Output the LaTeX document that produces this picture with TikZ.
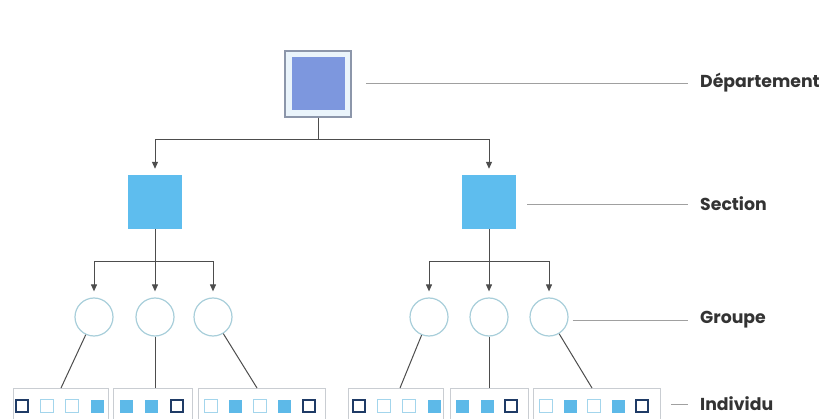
\documentclass[tikz,border=0pt]{standalone}
\usepackage{fontspec}
\setmainfont{Poppins}
\usetikzlibrary{arrows.meta}
\definecolor{deptborder}{HTML}{8C96AA}
\definecolor{deptfill}{HTML}{7D97DE}
\definecolor{deptgap}{HTML}{EAF4FB}
\definecolor{secfill}{HTML}{5EBDEE}
\definecolor{circcol}{HTML}{A8CEDA}
\definecolor{sqdark}{HTML}{1F3B66}
\definecolor{sqlight}{HTML}{A3D5EC}
\definecolor{sqfill}{HTML}{5DB9E8}
\definecolor{framecol}{HTML}{C9CDD2}
\definecolor{conncol}{HTML}{4D4D4D}
\definecolor{lblcol}{HTML}{A0A0A0}
\definecolor{txtcol}{HTML}{333333}
\tikzset{
  depout/.style={draw=deptborder, line width=1.5pt, fill=deptgap, minimum size=66pt, inner sep=0pt},
  depin/.style={fill=deptfill, minimum size=53pt, inner sep=0pt},
  secbox/.style={fill=secfill, minimum size=54pt, inner sep=0pt},
  grpcirc/.style={circle, draw=circcol, line width=1.2pt, minimum size=38pt, inner sep=0pt},
  gframe/.style={draw=framecol, line width=0.8pt, minimum height=40pt, inner sep=0pt, anchor=north west},
  sqdk/.style={draw=sqdark, line width=2pt, fill=white, minimum size=12pt, inner sep=0pt},
  sqlt/.style={draw=sqlight, line width=1pt, fill=white, minimum size=13pt, inner sep=0pt},
  sqfl/.style={fill=sqfill, minimum size=13pt, inner sep=0pt},
  conn/.style={draw=conncol, line width=1pt},
  arr/.style={conn, -{Triangle[width=6pt,length=7pt]}, shorten >=6pt},
  lblline/.style={draw=lblcol, line width=0.8pt},
  lab/.style={anchor=west, text=txtcol, font=\fontsize{17.3}{20}\selectfont\bfseries, inner sep=0pt}
}
\begin{document}
\begin{tikzpicture}[x=1pt,y=-1pt]
\useasboundingbox (0,0) rectangle (821,419);
\clip (0,0) rectangle (821,419);
% department
\node[depout] (dep) at (318,84) {};
\node[depin] (depinner) at (dep) {};
% sections
\node[secbox] (secL) at (155,202) {};
\node[secbox] (secR) at (489,202) {};
% groups
\node[grpcirc] (c1) at (94,317) {};
\node[grpcirc] (c2) at (155,317) {};
\node[grpcirc] (c3) at (213,317) {};
\node[grpcirc] (c4) at (429,317) {};
\node[grpcirc] (c5) at (489,317) {};
\node[grpcirc] (c6) at (549,317) {};
% individual frames
\node[gframe, minimum width=95pt] (g1) at (13,388) {};
\node[gframe, minimum width=79pt] (g2) at (113,388) {};
\node[gframe, minimum width=127pt] (g3) at (198,388) {};
\node[gframe, minimum width=95pt] (g4) at (348,388) {};
\node[gframe, minimum width=78pt] (g5) at (450,388) {};
\node[gframe, minimum width=127pt] (g6) at (533,388) {};
% squares
\foreach \x/\t in {22/dk,47/lt,72/lt,97/fl,
                   126/fl,151/fl,177/dk,
                   211/lt,235/fl,260/lt,284/fl,309/dk,
                   359/dk,384/lt,409/lt,434/fl,
                   462/fl,487/fl,511/dk,
                   546/lt,570/fl,594/lt,618/fl,642/dk}
  \node[sq\t] (s\x) at (\x,406) {};
% connectors dept -> sections
\draw[conn] (dep.south) -- ++(0,22) coordinate (jD);
\draw[arr] (jD) -| (secL.north);
\draw[arr] (jD) -| (secR.north);
% sections -> groups
\draw[conn] (secL.south) -- ++(0,32) coordinate (jL);
\draw[arr] (jL) -| (c1.north);
\draw[arr] (jL) -| (c3.north);
\draw[arr] (secL.south) -- (c2.north);
\draw[conn] (secR.south) -- ++(0,32) coordinate (jR);
\draw[arr] (jR) -| (c4.north);
\draw[arr] (jR) -| (c6.north);
\draw[arr] (secR.south) -- (c5.north);
% groups -> individuals
\coordinate (t1) at (61,388);
\coordinate (t3) at (257,388);
\coordinate (t4) at (400,388);
\coordinate (t6) at (592,388);
\draw[conn] (c1) -- (t1);
\draw[conn] (c2.south) -- (c2.south |- g2.north);
\draw[conn] (c3) -- (t3);
\draw[conn] (c4) -- (t4);
\draw[conn] (c5.south) -- (c5.south |- g5.north);
\draw[conn] (c6) -- (t6);
% labels
\node[lab] (tD) at (700,83) {Département};
\node[lab] (tS) at (700,204) {Section};
\node[lab] (tG) at (700,320) {Groupe};
\node[lab] (tI) at (700,404) {Individu};
\draw[lblline] ([xshift=14pt]dep.east |- tD.west) -- ([xshift=-12pt]tD.west);
\draw[lblline] ([xshift=11pt]secR.east |- tS.west) -- ([xshift=-12pt]tS.west);
\draw[lblline] ([xshift=4pt]c6.east |- tG.west) -- ([xshift=-12pt]tG.west);
\draw[lblline] ([xshift=10pt]g6.north east |- tI.west) -- ([xshift=-12pt]tI.west);
\end{tikzpicture}
\end{document}
